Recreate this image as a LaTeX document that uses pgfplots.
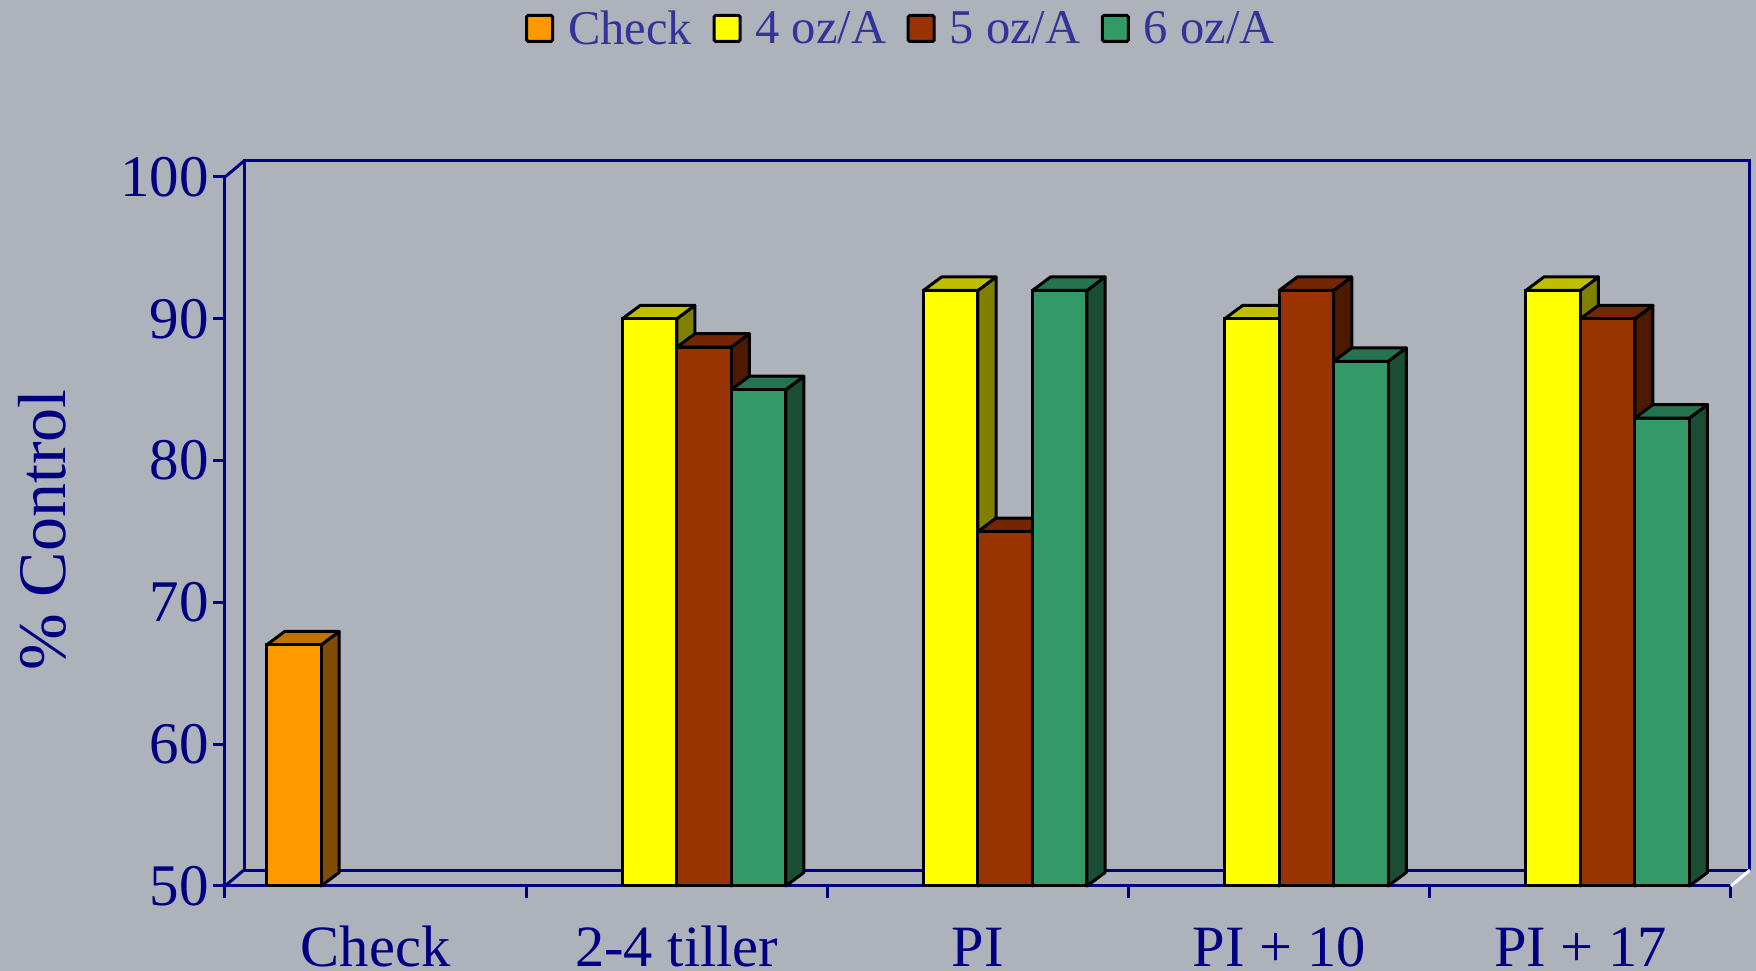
\documentclass[border=0pt]{standalone}
\usepackage{fontspec}
\setmainfont{Liberation Serif}
\usepackage{pgfplots}
\pgfplotsset{compat=1.18}
\definecolor{bg}{RGB}{174,178,187}
\definecolor{nav}{HTML}{000080}
\definecolor{legt}{HTML}{333399}
\definecolor{cO}{HTML}{FF9900}\definecolor{cOs}{HTML}{804D00}\definecolor{cOt}{HTML}{BF7300}
\definecolor{cY}{HTML}{FFFF00}\definecolor{cYs}{HTML}{808000}\definecolor{cYt}{HTML}{BFBF00}
\definecolor{cB}{HTML}{993300}\definecolor{cBs}{HTML}{4D1A00}\definecolor{cBt}{HTML}{732600}
\definecolor{cG}{HTML}{339966}\definecolor{cGs}{HTML}{1A4D33}\definecolor{cGt}{HTML}{267350}
% side and top faces of a bar: centre, value, slot offset, side colour, top colour
\newcommand\faces[5]{%
  \pgfmathsetmacro\xa{#1+(#3)*0.18094}%
  \pgfmathsetmacro\xb{\xa+0.18094}%
  \pgfmathsetmacro\xc{\xb+0.06}%
  \pgfmathsetmacro\xd{\xa+0.06}%
  \pgfmathsetmacro\yt{#2+0.95}%
  \addplot[fill=#4,draw=black,line width=3pt,line join=round,forget plot] coordinates {(\xb,50)(\xc,50.95)(\xc,\yt)(\xb,#2)} --cycle;
  \addplot[fill=#5,draw=black,line width=3pt,line join=round,forget plot] coordinates {(\xa,#2)(\xd,\yt)(\xc,\yt)(\xb,#2)} --cycle;
}
\begin{document}
\begin{tikzpicture}
\useasboundingbox (-225pt,-85pt) rectangle (1531pt,886pt);
\fill[bg] (-225pt,-85pt) rectangle (1531pt,886pt);
\begin{axis}[
  at={(0,0)}, anchor=south west,
  scale only axis, width=1506pt, height=709pt,
  xmin=0, xmax=5, ymin=50, ymax=100,
  clip=false,
  axis lines=left,
  axis line style={-, draw=nav, line width=3pt},
  xtick={0.5,1.5,2.5,3.5,4.5},
  xticklabels={Check,2-4 tiller,PI,PI + 10,PI + 17},
  minor xtick={0,1,2,3,4,5},
  ytick={50,60,70,80,90,100},
  major tick length=12pt, minor tick length=12pt,
  tick align=outside,
  major x tick style={draw=none},
  minor x tick style={draw=nav,line width=3pt},
  ytick style={draw=nav,line width=3pt},
  /pgf/number format/assume math mode=true,
  tick label style={text=nav,font=\fontsize{59}{62}\selectfont},
  x tick label style={anchor=base,yshift=-68pt,text depth=0pt,font=\fontsize{58.5}{62}\selectfont},
  y tick label style={anchor=east,inner sep=0pt,xshift=-4pt},
  ylabel={\% Control},
  every axis y label/.style={at={(axis description cs:-0.1215,0.502)},rotate=90,anchor=center,text=nav,font=\fontsize{68}{70}\selectfont},
  legend columns=4,
  legend cell align=left,
  legend image code/.code={\draw[#1,line width=3pt,rounded corners=1.5pt] (0pt,-13pt) rectangle (26pt,13pt);},
  legend style={at={(axis cs:1,100)},anchor=south west,xshift=-1pt,yshift=129pt,draw=none,fill=none,text=legt,
    font=\fontsize{48.5}{51}\selectfont,inner sep=0pt,outer sep=0pt,
    /tikz/every odd column/.append style={column sep=12pt},
    /tikz/every even column/.append style={column sep=18.5pt}},
]
% back wall
\addplot[draw=nav,line width=3pt,forget plot] coordinates {(0.0631,51.128)(5.0631,51.128)(5.0631,101.128)(0.0631,101.128)} --cycle;
\addplot[draw=nav,line width=3pt,forget plot] coordinates {(0,100)(0.0631,101.128)};
\addplot[draw=nav,line width=3pt,forget plot] coordinates {(0,50)(0.0631,51.128)};
\addplot[draw=white,line width=3pt,forget plot] coordinates {(5,50)(5.0631,51.128)};
% Check
\faces{0.5}{67}{-2}{cOs}{cOt}
\addplot[ybar,bar width=54.5pt,bar shift=-81.75pt,fill=cO,draw=black,line width=3pt] coordinates {(0.5,67)};
\addlegendentry{Check}
% 4 oz/A
\faces{1.5}{90}{-1}{cYs}{cYt}
\faces{2.5}{92}{-1}{cYs}{cYt}
\faces{3.5}{90}{-1}{cYs}{cYt}
\faces{4.5}{92}{-1}{cYs}{cYt}
\addplot[ybar,bar width=54.5pt,bar shift=-27.25pt,fill=cY,draw=black,line width=3pt] coordinates {(1.5,90)(2.5,92)(3.5,90)(4.5,92)};
\addlegendentry{4 oz/A}
% 5 oz/A
\faces{1.5}{88}{0}{cBs}{cBt}
\faces{2.5}{75}{0}{cBs}{cBt}
\faces{3.5}{92}{0}{cBs}{cBt}
\faces{4.5}{90}{0}{cBs}{cBt}
\addplot[ybar,bar width=54.5pt,bar shift=27.25pt,fill=cB,draw=black,line width=3pt] coordinates {(1.5,88)(2.5,75)(3.5,92)(4.5,90)};
\addlegendentry{5 oz/A}
% 6 oz/A
\faces{1.5}{85}{1}{cGs}{cGt}
\faces{2.5}{92}{1}{cGs}{cGt}
\faces{3.5}{87}{1}{cGs}{cGt}
\faces{4.5}{83}{1}{cGs}{cGt}
\addplot[ybar,bar width=54.5pt,bar shift=81.75pt,fill=cG,draw=black,line width=3pt] coordinates {(1.5,85)(2.5,92)(3.5,87)(4.5,83)};
\addlegendentry{6 oz/A}
\end{axis}
\end{tikzpicture}
\end{document}
